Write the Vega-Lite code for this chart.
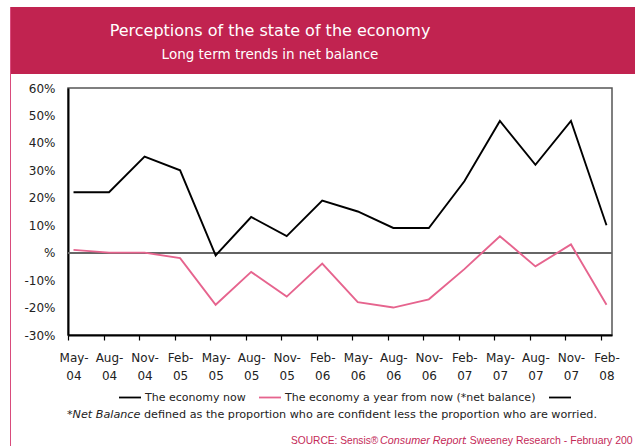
{
  "$schema": "https://vega.github.io/schema/vega-lite/v6.json",
  "background": "white",
  "padding": {"left": 10, "top": 7, "right": 0, "bottom": 0},
  "config": {"view": {"stroke": null}, "font": "DejaVu Sans"},
  "spacing": 0,
  "hconcat": [
    {
      "width": 1, "height": 439,
      "view": {"fill": "#D94B7C", "stroke": null},
      "data": {"values": []},
      "mark": "point"
    },
    {
      "spacing": 7,
      "vconcat": [
        {
          "bounds": "flush",
          "spacing": 0,
          "hconcat": [
            {
              "width": 518, "height": 67,
              "view": {"fill": "#C12350", "stroke": null},
              "data": {"values": [
                {"line": 1, "text": "Perceptions of the state of the economy"},
                {"line": 2, "text": "Long term trends in net balance"}
              ]},
              "encoding": {
                "y": {"field": "line", "type": "ordinal", "scale": {"type": "point", "domain": [1, 2], "padding": 0.94, "align": 0.66}, "axis": null},
                "text": {"field": "text"}
              },
              "layer": [
                {"transform": [{"filter": "datum.line == 1"}], "mark": {"type": "text", "fontSize": 16, "color": "white", "baseline": "alphabetic", "align": "center"}},
                {"transform": [{"filter": "datum.line == 2"}], "mark": {"type": "text", "fontSize": 13.5, "color": "white", "baseline": "alphabetic", "align": "center"}}
              ]
            },
            {
              "width": 106, "height": 67,
              "view": {"fill": "#C12350", "stroke": null},
              "data": {"values": []},
              "mark": "point"
            }
          ]
        },
        {
          "bounds": "flush",
          "spacing": 0,
          "hconcat": [
            {"width": 57, "height": 247, "data": {"values": []}, "mark": "point"},
            {
              "width": 544, "height": 247,
              "view": {"stroke": "#555555", "strokeWidth": 1.5},
              "data": {"values": [
                {"period": "May-04", "series": "The economy now", "value": 22},
                {"period": "Aug-04", "series": "The economy now", "value": 22},
                {"period": "Nov-04", "series": "The economy now", "value": 35},
                {"period": "Feb-05", "series": "The economy now", "value": 30},
                {"period": "May-05", "series": "The economy now", "value": -1},
                {"period": "Aug-05", "series": "The economy now", "value": 13},
                {"period": "Nov-05", "series": "The economy now", "value": 6},
                {"period": "Feb-06", "series": "The economy now", "value": 19},
                {"period": "May-06", "series": "The economy now", "value": 15},
                {"period": "Aug-06", "series": "The economy now", "value": 9},
                {"period": "Nov-06", "series": "The economy now", "value": 9},
                {"period": "Feb-07", "series": "The economy now", "value": 26},
                {"period": "May-07", "series": "The economy now", "value": 48},
                {"period": "Aug-07", "series": "The economy now", "value": 32},
                {"period": "Nov-07", "series": "The economy now", "value": 48},
                {"period": "Feb-08", "series": "The economy now", "value": 10},
                {"period": "May-04", "series": "The economy a year from now (*net balance)", "value": 1},
                {"period": "Aug-04", "series": "The economy a year from now (*net balance)", "value": 0},
                {"period": "Nov-04", "series": "The economy a year from now (*net balance)", "value": 0},
                {"period": "Feb-05", "series": "The economy a year from now (*net balance)", "value": -2},
                {"period": "May-05", "series": "The economy a year from now (*net balance)", "value": -19},
                {"period": "Aug-05", "series": "The economy a year from now (*net balance)", "value": -7},
                {"period": "Nov-05", "series": "The economy a year from now (*net balance)", "value": -16},
                {"period": "Feb-06", "series": "The economy a year from now (*net balance)", "value": -4},
                {"period": "May-06", "series": "The economy a year from now (*net balance)", "value": -18},
                {"period": "Aug-06", "series": "The economy a year from now (*net balance)", "value": -20},
                {"period": "Nov-06", "series": "The economy a year from now (*net balance)", "value": -17},
                {"period": "Feb-07", "series": "The economy a year from now (*net balance)", "value": -6},
                {"period": "May-07", "series": "The economy a year from now (*net balance)", "value": 6},
                {"period": "Aug-07", "series": "The economy a year from now (*net balance)", "value": -5},
                {"period": "Nov-07", "series": "The economy a year from now (*net balance)", "value": 3},
                {"period": "Feb-08", "series": "The economy a year from now (*net balance)", "value": -19}
              ]},
              "layer": [
                {
                  "mark": {"type": "rule", "color": "#666666", "strokeWidth": 1.5},
                  "encoding": {"y": {"datum": 0, "type": "quantitative"}}
                },
                {
                  "mark": {"type": "line", "strokeWidth": 1.9},
                  "encoding": {
                    "x": {
                      "field": "period", "type": "ordinal",
                      "sort": ["May-04","Aug-04","Nov-04","Feb-05","May-05","Aug-05","Nov-05","Feb-06","May-06","Aug-06","Nov-06","Feb-07","May-07","Aug-07","Nov-07","Feb-08"],
                      "scale": {"type": "point", "padding": 0.155},
                      "axis": {
                        "title": null, "labelAngle": 0, "grid": false,
                        "labelExpr": "[slice(datum.label, 0, 4), slice(datum.label, 4)]",
                        "labelLineHeight": 18, "labelFontSize": 12, "labelColor": "#222222",
                        "labelPadding": 12, "labelOverlap": false, "labelFlush": false,
                        "tickSize": 5, "tickColor": "#000000", "tickWidth": 1.2,
                        "tickOffset": -5.5, "labelOffset": 5.5,
                        "domainColor": "#000000", "domainWidth": 2
                      }
                    },
                    "y": {
                      "field": "value", "type": "quantitative",
                      "scale": {"domain": [-30, 60], "nice": false, "zero": false},
                      "axis": {
                        "title": null, "grid": false, "ticks": false, "tickSize": 0,
                        "values": [-30, -20, -10, 0, 10, 20, 30, 40, 50, 60],
                        "tickCount": 10,
                        "labelExpr": "datum.value == 0 ? '%' : datum.value + '%'",
                        "labelOverlap": false,
                        "labelPadding": 13, "labelFontSize": 12, "labelColor": "#222222",
                        "domainColor": "#000000", "domainWidth": 2
                      }
                    },
                    "color": {
                      "field": "series", "type": "nominal",
                      "scale": {
                        "domain": ["The economy now", "The economy a year from now (*net balance)", " "],
                        "range": ["#000000", "#E6648E", "#000000"]
                      },
                      "legend": {
                        "title": null, "orient": "none", "legendX": 108, "legendY": 378.5,
                        "direction": "horizontal", "symbolType": "stroke", "symbolSize": 484,
                        "symbolStrokeWidth": 1.8, "labelFontSize": 11, "labelColor": "#222222",
                        "labelOffset": 3, "columnPadding": 9, "padding": 0, "labelLimit": 400
                      }
                    }
                  }
                },
                {
                  "data": {"values": [{"text": "*Net Balance"}]},
                  "mark": {"type": "text", "align": "left", "baseline": "alphabetic", "fontSize": 11.2, "fontStyle": "italic", "color": "#222222"},
                  "encoding": {"text": {"field": "text"}, "x": {"value": -1}, "y": {"value": 330}}
                },
                {
                  "data": {"values": [{"text": "defined as the proportion who are confident less the proportion who are worried."}]},
                  "mark": {"type": "text", "align": "left", "baseline": "alphabetic", "fontSize": 11.2, "color": "#222222"},
                  "encoding": {"text": {"field": "text"}, "x": {"value": 76}, "y": {"value": 330}}
                },
                {
                  "data": {"values": [{"text": "SOURCE: Sensis®"}]},
                  "mark": {"type": "text", "align": "left", "baseline": "alphabetic", "font": "Liberation Sans", "fontSize": 10.2, "color": "#C42A58"},
                  "encoding": {"text": {"field": "text"}, "x": {"value": 223}, "y": {"value": 356}}
                },
                {
                  "data": {"values": [{"text": "Consumer Report"}]},
                  "mark": {"type": "text", "align": "left", "baseline": "alphabetic", "font": "Liberation Sans", "fontSize": 10.8, "fontStyle": "italic", "color": "#C42A58"},
                  "encoding": {"text": {"field": "text"}, "x": {"value": 312}, "y": {"value": 356}}
                },
                {
                  "data": {"values": [{"text": ": Sweeney Research - February 2008"}]},
                  "mark": {"type": "text", "align": "left", "baseline": "alphabetic", "font": "Liberation Sans", "fontSize": 10.5, "color": "#C42A58", "limit": 170, "ellipsis": "\u200b"},
                  "encoding": {"text": {"field": "text"}, "x": {"value": 396}, "y": {"value": 356}}
                }
              ]
            }
          ]
        }
      ]
    }
  ]
}
